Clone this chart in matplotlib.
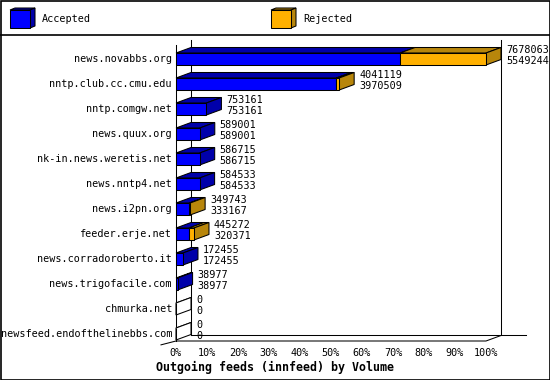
import matplotlib
matplotlib.use('Agg')
import matplotlib.pyplot as plt
from matplotlib.patches import Polygon, Rectangle

plt.rcParams['font.family'] = 'DejaVu Sans Mono'

feeds = ['news.novabbs.org', 'nntp.club.cc.cmu.edu', 'nntp.comgw.net', 'news.quux.org',
         'nk-in.news.weretis.net', 'news.nntp4.net', 'news.i2pn.org', 'feeder.erje.net',
         'news.corradoroberto.it', 'news.trigofacile.com', 'chmurka.net',
         'newsfeed.endofthelinebbs.com']
offered = [7678063, 4041119, 753161, 589001, 586715, 584533, 349743, 445272,
           172455, 38977, 0, 0]
accepted = [5549244, 3970509, 753161, 589001, 586715, 584533, 333167, 320371,
            172455, 38977, 0, 0]
xticks = [0, 10, 20, 30, 40, 50, 60, 70, 80, 90, 100]

BLUE, BLUE_D = '#0000FF', '#0000AA'
ORANGE, ORANGE_D = '#FFB000', '#B8860B'
W, HGT = 550, 380
PX = 3.1          # pixels per percent
DX = 15 / PX      # depth, in percent
DY = -0.22        # depth, in category slots
H = 0.24          # half height of bar front
TOP, BOT = -0.56, 11.28
LW = 0.75
FS = 7.3

fig = plt.figure(figsize=(W / 100, HGT / 100), dpi=100)

# overlay in pixels for frame + legend
bg = fig.add_axes([0, 0, 1, 1])
bg.set_xlim(0, W); bg.set_ylim(HGT, 0); bg.axis('off')
bg.add_patch(Rectangle((0.5, 0.5), W - 1, HGT - 1, fc='none', ec='black', lw=1.2))
bg.plot([0, W], [35, 35], color='black', lw=1.2)


def cube(x, y, front, dark):
    bg.add_patch(Polygon([(x, y), (x + 5, y - 2), (x + 25, y - 2), (x + 20, y)], fc=dark, ec='black', lw=LW))
    bg.add_patch(Polygon([(x + 20, y), (x + 25, y - 2), (x + 25, y + 16), (x + 20, y + 18)], fc=dark, ec='black', lw=LW))
    bg.add_patch(Rectangle((x, y), 20, 18, fc=front, ec='black', lw=LW))


cube(10, 10, BLUE, BLUE_D)
bg.text(42, 19.5, 'Accepted', fontsize=FS, va='center')
cube(271, 10, ORANGE, ORANGE_D)
bg.text(303, 19.5, 'Rejected', fontsize=FS, va='center')

ax = fig.add_axes([176 / W, 1 - 341 / HGT, 310 / W, (341 - 45) / HGT])
ax.set_xlim(0, 100)
ax.set_ylim(BOT, TOP)
ax.axis('off')

# walls
kw = dict(color='black', lw=LW, zorder=1, clip_on=False)
ax.plot([0, 0], [TOP, BOT], **kw)
ax.plot([DX, DX], [TOP + DY, BOT + DY], **kw)
ax.plot([100 + DX, 100 + DX], [TOP + DY, BOT + DY], **kw)
ax.plot([DX, 112.9], [BOT + DY, BOT + DY], **kw)
ax.plot([-DX, 0, 100, 100 + DX], [BOT - DY * 0.7, BOT, BOT, BOT + DY], **kw)


def box(x0, x1, y, front, dark, side=True):
    pk = dict(ec='black', lw=LW, zorder=3, clip_on=False)
    ax.add_patch(Polygon([(x0, y - H), (x0 + DX, y - H + DY), (x1 + DX, y - H + DY), (x1, y - H)], fc=dark, **pk))
    if side:
        fc = dark if x1 > x0 else 'white'
        ax.add_patch(Polygon([(x1, y - H), (x1 + DX, y - H + DY), (x1 + DX, y + H + DY), (x1, y + H)], fc=fc, **pk))
    ax.add_patch(Polygon([(x0, y - H), (x1, y - H), (x1, y + H), (x0, y + H)], fc=front, **pk))


top = max(offered)
for i, (name, o, a) in enumerate(zip(feeds, offered, accepted)):
    acc = a / top * 100
    rej = (o - a) / top * 100
    box(0, acc, i, BLUE, BLUE_D, side=rej == 0)
    if rej > 0:
        box(acc, acc + rej, i, ORANGE, ORANGE_D)
    end = acc + rej + DX + 5 / PX
    ax.text(end, i - 0.36, str(o), fontsize=FS, va='center', clip_on=False)
    ax.text(end, i + 0.08, str(a), fontsize=FS, va='center', clip_on=False)
    ax.text(-4 / PX, i, name, fontsize=FS, ha='right', va='center', clip_on=False)

for t in xticks:
    ax.text(t, BOT + 12 / 25, f'{t}%', fontsize=FS, ha='center', va='center', clip_on=False)

fig.text(0.5, 1 - 367 / HGT, 'Outgoing feeds (innfeed) by Volume', fontsize=8.4,
         weight='bold', ha='center', va='center')

fig.savefig('out.png', dpi=100)
